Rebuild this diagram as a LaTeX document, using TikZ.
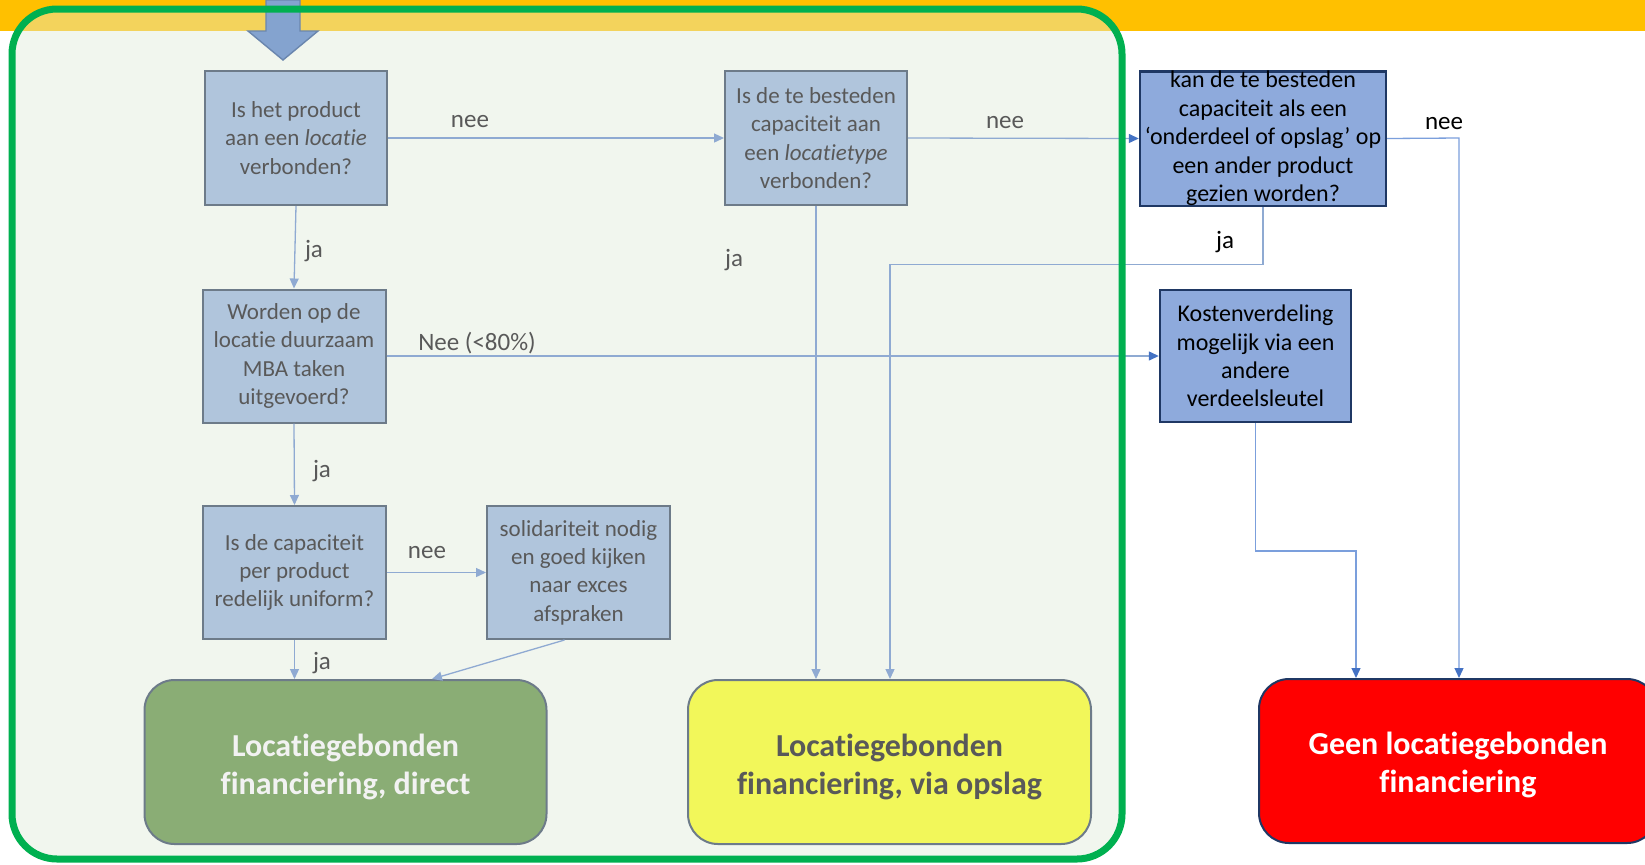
\documentclass[tikz,border=0pt]{standalone}
\usepackage{fontspec}
\setmainfont{Carlito}[Ligatures=NoCommon]
\usetikzlibrary{arrows.meta,calc}
\definecolor{orangeband}{HTML}{FFC000}
\definecolor{bandtint}{HTML}{F3D35C}
\definecolor{panelfill}{HTML}{F1F6EE}
\definecolor{panelline}{HTML}{00B050}
\definecolor{qfill}{HTML}{B0C5DC}
\definecolor{qline}{HTML}{6D7B89}
\definecolor{qtext}{HTML}{595959}
\definecolor{bfill}{HTML}{8EAADC}
\definecolor{bline}{HTML}{1F3864}
\definecolor{conn}{HTML}{8FAAD2}
\definecolor{conntwo}{HTML}{7B9FDC}
\definecolor{tipdark}{HTML}{4472C4}
\definecolor{okgreen}{HTML}{8AAD75}
\definecolor{okyellow}{HTML}{F2F75A}
\definecolor{nored}{HTML}{FF0000}
\definecolor{arrowfill}{HTML}{84A3CF}
\definecolor{arrowline}{HTML}{6A86AE}
\begin{document}
\begin{tikzpicture}[x=0.5pt,y=-0.5pt,
  qbox/.style={draw=qline,fill=qfill,line width=1pt,text=qtext,align=center,inner sep=0pt,font=\fontsize{11.5}{14.2}\selectfont},
  bbox/.style={draw=bline,fill=bfill,line width=1.2pt,text=black,align=center,inner sep=0pt,font=\fontsize{12}{14.2}\selectfont},
  endbox/.style={rounded corners=15pt,line width=1pt,inner sep=0pt,minimum height=82pt},
  endtext/.style={align=center,inner sep=0pt,font=\bfseries\fontsize{16}{19.4}\selectfont},
  lbl/.style={text=qtext,inner sep=0pt,font=\fontsize{12.5}{15}\selectfont},
  lblk/.style={text=black,inner sep=0pt,font=\fontsize{12.5}{15}\selectfont},
  flow/.style={draw=conn,line width=0.65pt,-{Triangle[length=5pt,width=4.5pt]}},
  flowd/.style={draw=conntwo,line width=0.65pt,-{Triangle[length=5pt,width=4.5pt,color=tipdark]}},
  flowm/.style={draw=conn,line width=0.65pt,-{Triangle[length=5pt,width=4.5pt,color=tipdark]}}
]
\useasboundingbox (0,0) rectangle (1645,864);
% background band and panel
\fill[white] (0,0) rectangle (1645,864);
\fill[orangeband] (0,0) rectangle (1645,31);
\fill[panelfill,rounded corners=22.5pt] (12,9) rectangle (1122,859);
\begin{scope}
  \clip[rounded corners=22.5pt] (12,9) rectangle (1122,859);
  \fill[bandtint] (0,0) rectangle (1645,31);
\end{scope}
% entry arrow
\filldraw[fill=arrowfill,draw=arrowline,line width=0.7pt]
  (266,0) -- (300,0) -- (300,31) -- (318,31) -- (283,60) -- (248,31) -- (266,31) -- cycle;

% question boxes
\node[qbox,minimum width=91pt,minimum height=67pt] (b1) at (296,138)
  {Is het product\\aan een \textit{locatie}\\verbonden?};
\node[qbox,minimum width=91pt,minimum height=67pt] (b2) at (816,138)
  {Is de te besteden\\capaciteit aan\\een \textit{locatietype}\\verbonden?};
\node[bbox,minimum width=123pt,minimum height=66.5pt] (b3) at (1263,138.5)
  {kan de te besteden\\capaciteit als een\\‘onderdeel of opslag’ op\\een ander product\\gezien worden?};
\node[qbox,minimum width=91.5pt,minimum height=66.5pt] (b4) at (294,356)
  {Worden op de\\locatie duurzaam\\MBA taken\\uitgevoerd?};
\node[bbox,minimum width=95.5pt,minimum height=66pt] (b5) at (1255.5,356)
  {Kostenverdeling\\mogelijk via een\\andere\\verdeelsleutel};
\node[qbox,minimum width=91.5pt,minimum height=66.5pt] (b6) at (294.5,572.5)
  {Is de capaciteit\\per product\\redelijk uniform?};
\node[qbox,minimum width=91.5pt,minimum height=66.5pt] (b7) at (578.5,572.5)
  {solidariteit nodig\\en goed kijken\\naar exces\\afspraken};

% end boxes
\node[endbox,draw=qline,fill=okgreen,minimum width=201pt] (f1) at (345.5,762) {};
\node[endtext,text=white!95!black] (f1t) at (345.5,767) {Locatiegebonden\\financiering, direct};
\node[endbox,draw=qline,fill=okyellow,minimum width=201.5pt] (f2) at (889.5,762) {};
\node[endtext,text=qtext] (f2t) at (889.5,767) {Locatiegebonden\\financiering, via opslag};
\node[endbox,draw=bline,fill=nored,minimum width=199pt] (f3) at (1458,761) {};
\node[endtext,text=white] (f3t) at (1458,765) {Geen locatiegebonden\\financiering};

% junction coordinates
\coordinate (n1) at (1459,138);
\coordinate (j1) at (890,264.5);
\coordinate (j2) at (1356,551);

% connectors
\draw[flow] (b1.east) -- (b2.west);
\draw[flowm] (b2.east) -- (b3.west);
\draw[flowd] (b3.east) -- (n1) -- (n1 |- f3.north);
\draw[flow] (b3.south) |- (j1) -- (j1 |- f2.north);
\draw[flow] (b2.south) -- (b2.south |- f2.north);
\draw[flow] (b1.south) -- (b4.north);
\draw[flowm] (b4.east) -- (b5.west);
\draw[flow] (b4.south) -- (b6.north);
\draw[flow] (b6.east) -- (b7.west);
\draw[flow] (b6.south) -- (b6.south |- f1.north);
\draw[flow] ([xshift=-7pt]b7.south) -- ([xshift=43.25pt]f1.north);
\draw[flowd] (b5.south) |- (j2) -- (j2 |- f3.north);

% labels
\node[lbl] (l1) at (470,122) {nee};
\node[lbl] (l2) at (1005,123) {nee};
\node[lblk] (l3) at (1444,124) {nee};
\node[lbl] (l4) at (314,251) {ja};
\node[lbl] (l5) at (734,260) {ja};
\node[lblk] (l6) at (1225,242) {ja};
\node[lbl] (l7) at (477,343) {Nee (<80\%)};
\node[lbl] (l8) at (322,471) {ja};
\node[lbl] (l9) at (427,553) {nee};
\node[lbl] (l10) at (322,663) {ja};

% panel border on top
\draw[panelline,line width=3.5pt,rounded corners=22.5pt] (12,9) rectangle (1122,859);
\end{tikzpicture}
\end{document}
